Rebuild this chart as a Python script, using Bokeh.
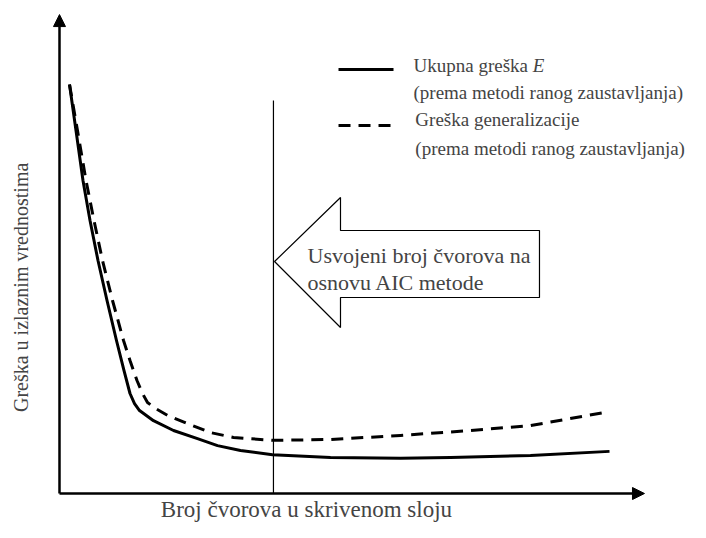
from bokeh.plotting import figure
from bokeh.models import Range1d, Arrow, NormalHead, Label
from bokeh.embed import file_html
from bokeh.resources import INLINE

# ---- data (arbitrary units: x = hidden nodes, y = error) ----
total_x = [1.82, 3.0, 4.27, 5.55, 7.0, 8.64, 10.36, 11.73, 12.82, 13.64, 14.55,
           17.09, 20.73, 25.09, 28.73, 32.91, 38.73, 49.27, 62.0, 71.09, 85.64, 100.0]
total_y = [100.0, 88.75, 76.53, 66.75, 56.97, 47.19, 37.41, 30.07, 24.45, 22.0, 20.29,
           17.8, 15.4, 13.4, 11.7, 10.5, 9.5, 8.8, 8.6, 8.8, 9.3, 10.3]

gen_x = [1.82, 3.27, 4.82, 6.27, 7.82, 9.64, 11.64, 12.82, 14.09, 15.09, 16.0, 17.45,
         19.64, 23.27, 27.45, 31.64, 38.73, 49.27, 62.0, 74.73, 85.64, 99.82]
gen_y = [100.0, 88.75, 76.53, 66.75, 56.97, 47.19, 37.41, 32.52, 27.63, 24.45, 22.25, 20.8,
         19.1, 17.1, 14.9, 13.7, 13.0, 13.2, 14.2, 15.4, 16.6, 20.0]

aic_x = 38.9          # adopted number of nodes (AIC)

series_labels = ["Ukupna greška ", "(prema metodi ranog zaustavljanja)",
                 "Greška generalizacije", "(prema metodi ranog zaustavljanja)"]
x_title = "Broj čvorova u skrivenom sloju"
y_title = "Greška u izlaznim vrednostima"
arrow_text = ["Usvojeni broj čvorova na", "osnovu AIC metode"]

FONT = "Liberation Serif"

p = figure(width=690, height=522, output_backend="svg", toolbar_location=None,
           x_axis_type=None, y_axis_type=None, min_border=0,
           x_range=Range1d(-10.727, 114.727), y_range=Range1d(-7.09, 120.54))
p.outline_line_color = None
p.background_fill_color = "white"

# axes with arrow heads
p.add_layout(Arrow(end=NormalHead(size=12, fill_color="black", line_color="black"),
                   x_start=0, y_start=0, x_end=106.36, y_end=0,
                   line_width=2.5, line_color="black"))
p.add_layout(Arrow(end=NormalHead(size=12, fill_color="black", line_color="black"),
                   x_start=0, y_start=0, x_end=0, y_end=117.1,
                   line_width=2.5, line_color="black"))

# vertical AIC line
p.line([aic_x, aic_x], [0, 96.1], line_color="black", line_width=1.2)

# big left-pointing arrow
ax = [aic_x + 0.2, 51.09, 51.09, 87.27, 87.27, 51.09, 51.09]
ay = [56.72, 72.37, 64.30, 64.30, 47.92, 47.92, 40.59]
p.patch(ax, ay, fill_color="white", line_color="black", line_width=1.2)
p.add_layout(Label(x=45.09, y=58.3, text=arrow_text[0], text_font=FONT,
                   text_font_size="22px", text_baseline="alphabetic"))
p.add_layout(Label(x=45.09, y=51.5, text=arrow_text[1], text_font=FONT,
                   text_font_size="22px", text_baseline="alphabetic"))

# curves
p.line(total_x, total_y, line_color="black", line_width=3, line_join="round")
p.line(gen_x, gen_y, line_color="black", line_width=3, line_dash="12 8", line_join="round")

# legend (custom)
p.line([50.73, 60.73], [103.67, 103.67], line_color="black", line_width=3)
p.line([50.73, 61.1], [90.0, 90.0], line_color="black", line_width=3, line_dash="12 8")
lab_fs = "19px"
p.add_layout(Label(x=64.36, y=104.6, text=series_labels[0], text_font=FONT,
                   text_font_size=lab_fs, text_baseline="alphabetic"))
p.add_layout(Label(x=86.04, y=104.6, text="E", text_font=FONT, text_font_style="italic",
                   text_font_size=lab_fs, text_baseline="alphabetic"))
p.add_layout(Label(x=64.36, y=98.0, text=series_labels[1], text_font=FONT,
                   text_font_size=lab_fs, text_baseline="alphabetic"))
p.add_layout(Label(x=64.7, y=91.4, text=series_labels[2], text_font=FONT,
                   text_font_size=lab_fs, text_baseline="alphabetic"))
p.add_layout(Label(x=64.7, y=84.4, text=series_labels[3], text_font=FONT,
                   text_font_size=lab_fs, text_baseline="alphabetic"))

# axis titles
p.add_layout(Label(x=44.9, y=-3.9, text=x_title, text_font=FONT,
                   text_font_size="23px", text_align="center", text_baseline="alphabetic"))
p.add_layout(Label(x=-7.09, y=50.4, text=y_title, text_font=FONT, angle=1.5708,
                   text_font_size="20px", text_align="center", text_baseline="middle"))

open("out.html", "w").write(file_html(p, INLINE))
